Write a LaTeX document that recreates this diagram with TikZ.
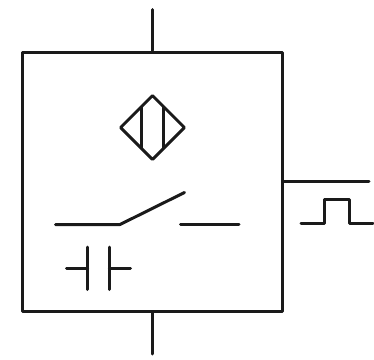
\documentclass[tikz,border=0pt]{standalone}
\usetikzlibrary{shapes.geometric}
\definecolor{ink}{HTML}{1A1A1A}
\tikzset{
  sym/.style={draw=ink,line width=3bp,line join=round,line cap=round},
  housing/.style={sym,rectangle,inner sep=0pt,minimum width=260bp,minimum height=259.5bp},
  sensor/.style={sym,diamond,inner sep=0pt,minimum width=65bp,minimum height=65bp}
}
\begin{document}
\begin{tikzpicture}[x=1bp,y=-1bp]
\useasboundingbox (0,0) rectangle (374,360);
\fill[white] (0,0) rectangle (374,360);
\node[housing] (box) at (152.5,181.75) {};
\node[sensor] (sens) at (152.5,127.5) {};
\coordinate (top) at (152.5,9.5);
\coordinate (bot) at (152.5,354);
\coordinate (outA) at (282.5,181.5);
\coordinate (outB) at (369,181.5);
\draw[sym] (top) -- (box.north);
\draw[sym] (box.south) -- (bot);
\draw[sym] (outA) -- (outB);
% sensor bars
\draw[sym] (141.5,107) -- (141.5,148);
\draw[sym] (163.8,107) -- (163.8,148);
% switch
\draw[sym] (55.5,224.5) -- (120,224.5) -- (184.5,192.5);
\draw[sym] (180.5,224.5) -- (239,224.5);
% capacitor
\draw[sym] (66.5,268) -- (87.7,268);
\draw[sym] (87.7,247) -- (87.7,289.5);
\draw[sym] (109.3,247) -- (109.3,289.5);
\draw[sym] (109.3,268) -- (130.5,268);
% pulse
\draw[sym] (301,223.5) -- (324.5,223.5) -- (324.5,199.5) -- (349,199.5) -- (349,223.5) -- (373,223.5);
\end{tikzpicture}
\end{document}
